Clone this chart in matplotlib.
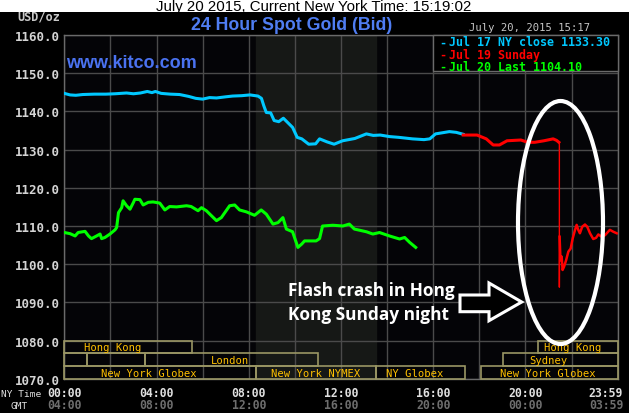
import matplotlib
matplotlib.use("Agg")
import matplotlib.pyplot as plt
from matplotlib.patches import Rectangle, Ellipse, Polygon

# ---------------- data ----------------
blue_hours = [0.0, 0.25, 0.5, 0.8, 1.3, 1.8, 2.2, 2.7, 3.0, 3.3, 3.6, 3.8, 3.95, 4.2, 4.6, 5.0, 5.4,
              5.7, 6.0, 6.3, 6.6, 7.0, 7.3, 7.7, 8.05, 8.4, 8.55, 8.65, 8.76, 8.95, 9.1, 9.3, 9.5,
              9.75, 9.9, 10.1, 10.3, 10.6, 10.9, 11.07, 11.4, 11.7, 12.07, 12.6, 13.1, 13.4, 13.7,
              14.1, 14.5, 15.1, 15.6, 15.85, 16.1, 16.4, 16.7, 17.0, 17.3]
blue_vals = [1144.7, 1144.3, 1144.2, 1144.4, 1144.5, 1144.5, 1144.6, 1144.8, 1144.6, 1144.8, 1145.2,
             1144.9, 1145.2, 1144.7, 1144.5, 1144.4, 1143.9, 1143.4, 1143.2, 1143.6, 1143.5, 1143.8,
             1144.0, 1144.1, 1144.3, 1144.0, 1143.4, 1141.5, 1139.7, 1139.6, 1137.6, 1137.3, 1138.2,
             1136.7, 1135.8, 1133.2, 1132.8, 1131.4, 1131.5, 1132.8, 1132.0, 1131.4, 1132.3, 1132.9,
             1134.1, 1133.7, 1133.8, 1133.4, 1133.2, 1132.8, 1132.6, 1132.8, 1134.1, 1134.4, 1134.7,
             1134.5, 1134.0]

red_pre_hours = [17.3, 17.9, 18.3, 18.6, 18.87, 19.2, 19.8, 20.1, 20.4, 20.8, 21.2, 21.35, 21.45]
red_pre_vals = [1133.8, 1133.8, 1132.8, 1131.2, 1131.2, 1132.3, 1132.5, 1131.9, 1131.9, 1132.3,
                1132.8, 1132.4, 1131.9]
crash_hour = 21.47
crash_low = 1094.0
red_post_hours = [21.48, 21.52, 21.57, 21.61, 21.67, 21.76, 21.86, 21.96, 22.05, 22.15, 22.22, 22.29,
                  22.36, 22.46, 22.58, 22.68, 22.8, 22.94, 23.06, 23.16, 23.3, 23.45, 23.66, 23.81, 23.96]
red_post_vals = [1107.2, 1101.0, 1102.0, 1098.5, 1099.3, 1101.0, 1103.3, 1104.1, 1106.8, 1109.0,
                 1110.3, 1109.0, 1108.1, 1109.8, 1110.4, 1109.8, 1108.1, 1106.6, 1106.9, 1107.8,
                 1107.2, 1107.6, 1109.0, 1108.5, 1108.1]

green_hours = [0.0, 0.25, 0.47, 0.6, 0.9, 1.05, 1.18, 1.4, 1.55, 1.62, 1.76, 1.98, 2.2, 2.27, 2.35,
               2.49, 2.55, 2.7, 2.85, 3.0, 3.06, 3.28, 3.42, 3.64, 3.85, 4.14, 4.36, 4.57, 4.87, 5.3,
               5.5, 5.8, 5.95, 6.16, 6.6, 6.81, 7.17, 7.39, 7.6, 7.9, 8.25, 8.54, 8.76, 9.05, 9.27,
               9.48, 9.63, 9.9, 10.13, 10.3, 10.42, 10.78, 10.92, 11.07, 11.2, 11.65, 12.08, 12.36,
               12.58, 13.1, 13.38, 13.67, 14.1, 14.54, 14.76, 14.98, 15.24]
green_vals = [1108.3, 1108.0, 1107.4, 1108.3, 1108.6, 1107.4, 1106.7, 1107.4, 1107.9, 1106.7, 1107.0,
              1107.9, 1109.0, 1109.6, 1113.5, 1114.8, 1116.6, 1115.3, 1114.4, 1116.2, 1117.0, 1116.9,
              1115.5, 1116.2, 1116.3, 1116.0, 1114.2, 1115.1, 1115.0, 1115.3, 1115.1, 1114.0, 1114.8,
              1114.0, 1111.4, 1112.2, 1115.3, 1115.5, 1114.2, 1113.7, 1112.8, 1114.2, 1113.1, 1110.5,
              1110.9, 1112.2, 1109.2, 1108.5, 1104.4, 1105.3, 1106.1, 1106.1, 1106.1, 1106.7, 1110.0,
              1110.2, 1110.0, 1110.5, 1109.2, 1108.5, 1107.9, 1108.3, 1107.4, 1106.6, 1107.0, 1105.7,
              1104.4]

legend_labels = ["Jul 17 NY close 1133.30", "Jul 19 Sunday", "Jul 20 Last 1104.10"]
series_colors = ["#00c8ff", "#ff0000", "#00ff00"]

y_ticks = [1070, 1080, 1090, 1100, 1110, 1120, 1130, 1140, 1150, 1160]
ny_tick_hours = [0, 4, 8, 12, 16, 20, 24]
ny_tick_labels = ["00:00", "04:00", "08:00", "12:00", "16:00", "20:00", "23:59"]
gmt_tick_labels = ["04:00", "08:00", "12:00", "16:00", "20:00", "00:00", "03:59"]

nymex_shade = (8.33, 13.52)

# sessions: (row, start, end, label, label_hour)
sessions = [
    (0, 0.0, 5.53, "Hong Kong", 2.1),
    (0, 20.54, 24.0, "Hong Kong", 22.05),
    (1, 0.0, 1.0, "", 0),
    (1, 1.0, 3.5, "", 0),
    (1, 3.5, 11.0, "London", 7.17),
    (1, 19.03, 24.0, "Sydney", 20.98),
    (2, 0.0, 8.31, "New York Globex", 3.66),
    (2, 8.31, 13.52, "New York NYMEX", 10.9),
    (2, 13.52, 17.38, "NY Globex", 15.2),
    (2, 18.07, 24.0, "New York Globex", 20.98),
]

# ---------------- figure ----------------
W, H = 629, 414
fig = plt.figure(figsize=(W / 100, H / 100), dpi=100, facecolor="black")

left_px, right_px, top_px, bot_px = 64.3, 617.7, 35.9, 379.9
ax = fig.add_axes([left_px / W, (H - bot_px) / H, (right_px - left_px) / W, (bot_px - top_px) / H])
ax.set_facecolor("#040407")
ax.set_xlim(0, 24)
ax.set_ylim(1070, 1160)

ax.axvspan(*nymex_shade, color="#161816", zorder=0)
for h in range(0, 25, 2):
    ax.axvline(h, color="#4a4a4a", lw=1.0, zorder=1)
for v in y_ticks:
    ax.axhline(v, color="#4a4a4a", lw=1.0, zorder=1)

ax.set_xticks([])
ax.set_yticks(y_ticks)
ax.set_yticklabels([f"{v:.1f}" for v in y_ticks], family="DejaVu Sans Mono", weight="bold",
                   fontsize=9, color="#d4d4d4")
ax.tick_params(axis="y", length=0, pad=3)
for s in ax.spines.values():
    s.set_color("#6a6a6a")
    s.set_linewidth(1.0)

ax.plot(blue_hours, blue_vals, color=series_colors[0], lw=2.2, zorder=3)
ax.plot(red_pre_hours, red_pre_vals, color=series_colors[1], lw=2.2, zorder=3)
ax.plot([red_pre_hours[-1], crash_hour, crash_hour, red_post_hours[0]],
        [red_pre_vals[-1], red_pre_vals[-1], crash_low, red_post_vals[0]],
        color=series_colors[1], lw=1.0, zorder=3)
ax.plot(red_post_hours, red_post_vals, color=series_colors[1], lw=1.8, zorder=3)
ax.plot(green_hours, green_vals, color=series_colors[2], lw=2.2, zorder=3)

row_h = 10 / 3
for row, s0, s1, lab, lh in sessions:
    y0 = 1080 - (row + 1) * row_h
    ax.add_patch(Rectangle((s0, y0), s1 - s0, row_h, facecolor="none",
                           edgecolor="#9a9664", lw=1.2, zorder=4, clip_on=False))
    if lab:
        ax.text(lh, y0 + row_h / 2, lab, ha="center", va="center", family="DejaVu Sans Mono",
                fontsize=7.6, color="#ffc000", zorder=5)

# ---------------- overlay in pixel coordinates ----------------
ov = fig.add_axes([0, 0, 1, 1], facecolor="none")
ov.set_xlim(0, W)
ov.set_ylim(H, 0)
ov.axis("off")

ov.add_patch(Rectangle((0, 0), W, 13, facecolor="white", edgecolor="none"))
ov.text(314, 11, "July 20 2015, Current New York Time: 15:19:02", ha="center", va="baseline",
        family="Liberation Sans", fontsize=10.8, color="black")

ov.text(292, 30, "24 Hour Spot Gold (Bid)", ha="center", va="baseline", family="Liberation Sans",
        weight="bold", fontsize=12.8, color="#4f7df2")
ov.text(66, 67.5, "www.kitco.com", ha="left", va="baseline", family="Liberation Sans",
        weight="bold", fontsize=13, color="#4a72f0")
ov.text(60, 21, "USD/oz", ha="right", va="baseline", family="DejaVu Sans Mono", weight="bold",
        fontsize=8.6, color="#c8c8c8")
ov.text(590, 31, "July 20, 2015 15:17", ha="right", va="baseline", family="DejaVu Sans Mono",
        fontsize=7.6, color="#c8c8c8")

# legend box
ov.add_patch(Rectangle((433.3, top_px), right_px - 433.3, 36, facecolor="black",
                       edgecolor="#6a6a6a", lw=1.0))
for i, (lab, col) in enumerate(zip(legend_labels, series_colors)):
    yb = 46.5 + i * 12.2
    ov.text(439, yb, "-", ha="left", va="baseline", family="DejaVu Sans Mono", weight="bold",
            fontsize=8.4, color=col)
    ov.text(449, yb, lab, ha="left", va="baseline", family="DejaVu Sans Mono", weight="bold",
            fontsize=8.4, color=col)

# x labels
ov.text(1, 397, "NY Time", ha="left", va="baseline", family="DejaVu Sans Mono", fontsize=6.8,
        color="#e0e0e0")
ov.text(19, 409, "GMT", ha="center", va="baseline", family="DejaVu Sans Mono", fontsize=6.8,
        color="#e0e0e0")
for h, l1, l2 in zip(ny_tick_hours, ny_tick_labels, gmt_tick_labels):
    px = min(left_px + h * (right_px - left_px) / 24, 606)
    ov.text(px, 397, l1, ha="center", va="baseline", family="DejaVu Sans Mono", weight="bold",
            fontsize=8.3, color="#e0e0e0")
    ov.text(px, 409.5, l2, ha="center", va="baseline", family="DejaVu Sans Mono", weight="bold",
            fontsize=8.3, color="#6e6e6e")

# annotation
ov.add_patch(Ellipse((560.5, 223.5), 85, 243, facecolor="none", edgecolor="white", lw=3.0))
ov.add_patch(Polygon([(460, 296), (489, 296), (489, 284), (521.7, 303), (489, 321.7),
                      (489, 312.7), (460, 312.7)], closed=True, facecolor="black",
                     edgecolor="white", lw=2.2, joinstyle="miter"))
ov.text(288, 296, "Flash crash in Hong", ha="left", va="baseline", family="Open Sans",
        weight="bold", fontsize=12.4, color="white")
ov.text(288, 320, "Kong Sunday night", ha="left", va="baseline", family="Open Sans",
        weight="bold", fontsize=12.4, color="white")

fig.savefig("out.png", dpi=100, facecolor="black")
